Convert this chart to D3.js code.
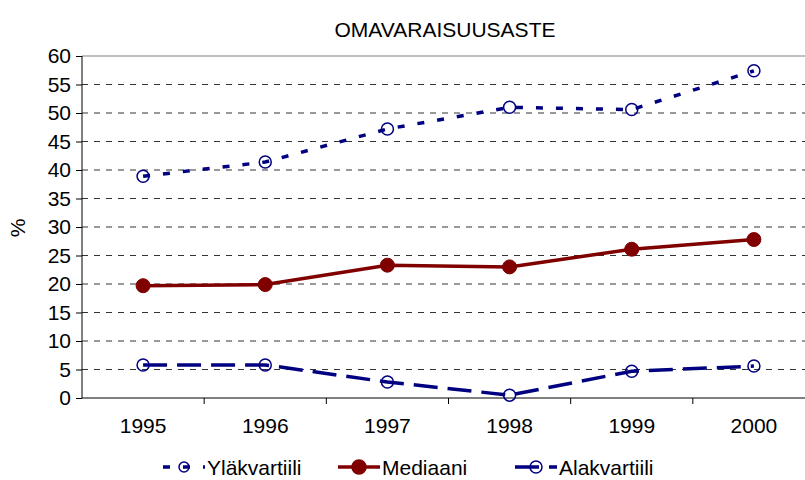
<!DOCTYPE html>
<html>
<head>
<meta charset="utf-8">
<script src="https://cdn.jsdelivr.net/npm/d3@7"></script>
<style>
  body { margin: 0; background: #fff; }
  text { font-family: "Liberation Sans", Arial, sans-serif; fill: #000; }
</style>
</head>
<body>
<div id="chart"></div>
<script>
// data
const years = ["1995", "1996", "1997", "1998", "1999", "2000"];
const ylakvartiili = [38.9, 41.4, 47.2, 51.0, 50.6, 57.4];
const mediaani = [19.7, 19.9, 23.3, 23.0, 26.1, 27.8];
const alakvartiili = [5.8, 5.8, 2.8, 0.5, 4.7, 5.6];
const yTicks = [0, 5, 10, 15, 20, 25, 30, 35, 40, 45, 50, 55, 60];

const svgWidth = 805;
const svgHeight = 480;

const margin = { top: 56, left: 82, bottom: 82 };
const plotRight = 815; // plot area runs past the picture edge
const height = svgHeight - margin.top - margin.bottom;

const svg = d3.select("#chart")
  .append("svg")
  .attr("width", svgWidth)
  .attr("height", svgHeight);

const x = d3.scaleBand()
  .domain(years)
  .range([margin.left, plotRight]);

const y = d3.scaleLinear()
  .domain([0, 60])
  .range([margin.top + height, margin.top]);

// title
svg.append("text")
  .attr("x", 445)
  .attr("y", 37)
  .attr("text-anchor", "middle")
  .style("font-size", "21px")
  .text("OMAVARAISUUSASTE");

// gridlines
svg.append("g")
  .selectAll("line")
  .data(yTicks.filter(d => d > 0))
  .enter()
  .append("line")
  .attr("x1", margin.left)
  .attr("x2", plotRight)
  .attr("y1", d => y(d))
  .attr("y2", d => y(d))
  .attr("stroke", d => d === 60 ? "#808080" : "#333")
  .attr("stroke-width", 1)
  .attr("stroke-dasharray", d => d === 60 ? null : "6,6");

// y axis
const yAxis = svg.append("g")
  .attr("transform", `translate(${margin.left},0)`)
  .call(d3.axisLeft(y).tickValues(yTicks).tickSize(6).tickPadding(5));
yAxis.selectAll("text").style("font-size", "21px");
yAxis.select(".domain").attr("d", `M0,${y(60)}V${y(0)}`);

// x axis, ticks between categories
const xAxisG = svg.append("g")
  .attr("transform", `translate(0,${y(0)})`);
xAxisG.append("line")
  .attr("x1", margin.left)
  .attr("x2", plotRight)
  .attr("stroke", "#000");
xAxisG.selectAll(".tk")
  .data(years.slice(1))
  .enter()
  .append("line")
  .attr("x1", d => x(d))
  .attr("x2", d => x(d))
  .attr("y1", 0)
  .attr("y2", 6)
  .attr("stroke", "#000");
xAxisG.selectAll(".lbl")
  .data(years)
  .enter()
  .append("text")
  .attr("x", d => x(d) + x.bandwidth() / 2)
  .attr("y", 35)
  .attr("text-anchor", "middle")
  .style("font-size", "21px")
  .text(d => d);

// y label
svg.append("text")
  .attr("transform", "translate(25,228) rotate(-90)")
  .attr("text-anchor", "middle")
  .style("font-size", "21px")
  .text("%");

const cx = (d, i) => x(years[i]) + x.bandwidth() / 2;
const line = d3.line().x(cx).y(d => y(d));

const series = [
  { name: "Yläkvartiili", values: ylakvartiili, color: "#000080", dash: "7,13", filled: false, r: 6 },
  { name: "Mediaani", values: mediaani, color: "#800000", dash: null, filled: true, r: 7 },
  { name: "Alakvartiili", values: alakvartiili, color: "#000080", dash: "24,10", filled: false, r: 6 }
];

series.forEach(s => {
  svg.append("path")
    .datum(s.values)
    .attr("d", line)
    .attr("fill", "none")
    .attr("stroke", s.color)
    .attr("stroke-width", 3.5)
    .attr("stroke-dasharray", s.dash);

  svg.append("g")
    .selectAll("circle")
    .data(s.values)
    .enter()
    .append("circle")
    .attr("cx", cx)
    .attr("cy", d => y(d))
    .attr("r", s.r)
    .attr("fill", s.filled ? s.color : "none")
    .attr("stroke", s.color)
    .attr("stroke-width", s.filled ? 1 : 1.5);
});

// legend
const legendX = [163, 338, 515];
const legend = svg.append("g").attr("transform", "translate(0,467)");
series.forEach((s, i) => {
  const g = legend.append("g").attr("transform", `translate(${legendX[i]},0)`);
  g.append("line")
    .attr("x1", 0)
    .attr("x2", 42)
    .attr("stroke", s.color)
    .attr("stroke-width", 3.5)
    .attr("stroke-dasharray", s.dash);
  g.append("circle")
    .attr("cx", 21)
    .attr("r", i === 0 ? 5 : s.r)
    .attr("fill", s.filled ? s.color : "none")
    .attr("stroke", s.color)
    .attr("stroke-width", 1.5);
  g.append("text")
    .attr("x", 44)
    .attr("y", 8)
    .style("font-size", "21px")
    .text(s.name);
});
</script>
</body>
</html>
